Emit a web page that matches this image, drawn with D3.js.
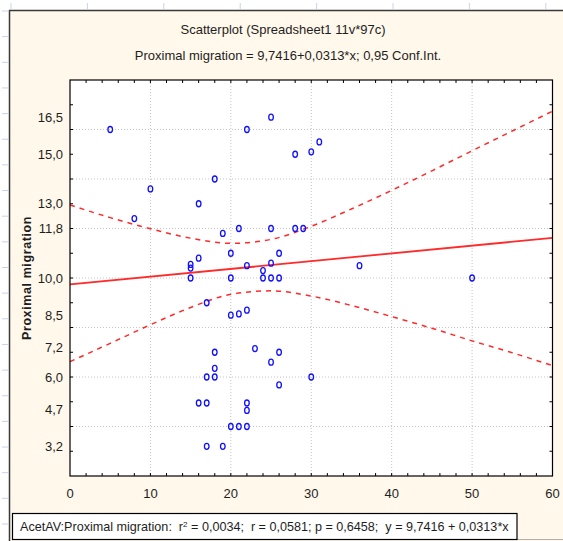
<!DOCTYPE html>
<meta charset="utf-8">
<!-- Load d3.js -->
<script src="https://d3js.org/d3.v7.min.js"></script>
<style>
  body { margin: 0; background: #ffffff; }
  svg text { font-family: Arial, "Liberation Sans", sans-serif; fill: #1e1e1e; }
</style>
<!-- Create a div where the graph will take place -->
<div id="my_div"></div>

<script>
    // data: AcetAV (x) vs Proximal migration (y)
    var acetAV = [5, 8, 10, 15, 15, 15, 16, 16, 16, 17, 17, 17, 17, 18, 18, 18, 18, 19, 19,
                  20, 20, 20, 20, 21, 21, 21, 22, 22, 22, 22, 22, 22, 23, 24, 24, 25, 25, 25,
                  25, 25, 26, 26, 26, 26, 28, 28, 29, 30, 30, 31, 36, 50];
    var proxMigration = [16.0, 12.4, 13.6, 10.55, 10.4, 10.0, 13.0, 10.8, 4.95, 9.0, 6.0, 4.95, 3.2,
                  14.0, 7.0, 6.35, 6.0, 11.8, 3.2, 11.0, 10.0, 8.5, 4.0, 12.0, 8.55, 4.0, 16.0,
                  10.5, 8.7, 4.95, 4.65, 4.0, 7.15, 10.3, 10.0, 16.5, 12.0, 10.6, 10.0, 6.6,
                  11.0, 10.0, 7.0, 5.68, 15.0, 12.0, 12.0, 15.1, 6.0, 15.5, 10.5, 10.0];

    // fitted line (from the subtitle) and the 0,95 confidence band
    var intercept = 9.7416, slope = 0.0313;
    var bandX     = [0, 5, 10, 15, 20, 25, 30, 35, 40, 45, 50, 55, 60];
    var bandUpper = [12.95, 12.44, 11.99, 11.61, 11.40, 11.56, 12.09, 12.79, 13.54, 14.33, 15.14, 15.94, 16.74];
    var bandLower = [6.62, 7.36, 8.11, 8.81, 9.34, 9.48, 9.27, 8.89, 8.44, 7.97, 7.46, 6.98, 6.46];

    // axis ticks
    var xTicks = [0, 10, 20, 30, 40, 50, 60];
    var yTickValues = [16.5, 15, 13, 12, 10, 8.5, 7.2, 6, 4.7, 3.2];
    var yTickLabels = ["16,5", "15,0", "13,0", "11,8", "10,0", "8,5", "7,2", "6,0", "4,7", "3,2"];

    var W = 563, H = 541;
    var plot = {left: 70, top: 80, right: 552.5, bottom: 476};

    var svg = d3.select("#my_div")
      .append("svg")
        .attr("width", W)
        .attr("height", H);

    // white sheet with the light blue ruler marks
    svg.append("rect").attr("width", W).attr("height", H).attr("fill", "#ffffff");
    svg.append("g").selectAll("line")
      .data(d3.range(11, H, 25.65))
      .enter().append("line")
        .attr("x1", 2).attr("x2", 8)
        .attr("y1", function(d) { return d; }).attr("y2", function(d) { return d; })
        .attr("stroke", "#c9d2ea").attr("stroke-width", 1);
    svg.append("g").selectAll("line")
      .data(d3.range(11, W, 76.4))
      .enter().append("line")
        .attr("y1", 3).attr("y2", 9)
        .attr("x1", function(d) { return d; }).attr("x2", function(d) { return d; })
        .attr("stroke", "#c9d2ea").attr("stroke-width", 1);

    // graph frame (cream)
    svg.append("rect")
      .attr("x", 9.5).attr("y", 10.5)
      .attr("width", W).attr("height", H)
      .attr("fill", "#fff8eb")
      .attr("stroke", "#3a3a3a")
      .attr("stroke-width", 1.5);

    // scales
    var x = d3.scaleLinear().domain([0, 60]).range([plot.left, plot.right]);
    var y = d3.scaleLinear().domain([2, 18]).range([plot.bottom, plot.top]);

    // plot background
    svg.append("rect")
      .attr("x", plot.left).attr("y", plot.top)
      .attr("width", plot.right - plot.left)
      .attr("height", plot.bottom - plot.top)
      .attr("fill", "#ffffff");

    // dotted grid
    svg.append("g").selectAll("line")
      .data([10, 20, 30, 40, 50])
      .enter().append("line")
        .attr("x1", function(d) { return x(d); }).attr("x2", function(d) { return x(d); })
        .attr("y1", plot.top).attr("y2", plot.bottom)
        .attr("stroke", "#c4c4c4").attr("stroke-dasharray", "1,2");
    svg.append("g").selectAll("line")
      .data([4, 6, 8, 10, 12, 14, 16])
      .enter().append("line")
        .attr("y1", function(d) { return y(d); }).attr("y2", function(d) { return y(d); })
        .attr("x1", plot.left).attr("x2", plot.right)
        .attr("stroke", "#c4c4c4").attr("stroke-dasharray", "1,2");

    // small inside ticks on the four sides
    var ticks = svg.append("g").attr("stroke", "#000").attr("stroke-width", 1);
    d3.range(3, 18, 1).forEach(function(v) {
      ticks.append("line").attr("x1", plot.left).attr("x2", plot.left + 3)
        .attr("y1", y(v)).attr("y2", y(v));
      ticks.append("line").attr("x1", plot.right - 3).attr("x2", plot.right)
        .attr("y1", y(v)).attr("y2", y(v));
    });
    d3.range(2, 60, 2).forEach(function(v) {
      ticks.append("line").attr("y1", plot.bottom - 3).attr("y2", plot.bottom)
        .attr("x1", x(v)).attr("x2", x(v));
      ticks.append("line").attr("y1", plot.top).attr("y2", plot.top + 3)
        .attr("x1", x(v)).attr("x2", x(v));
    });

    // confidence band (dashed) and regression line
    var bandLine = d3.line()
      .x(function(d) { return x(d[0]); })
      .y(function(d) { return y(d[1]); })
      .curve(d3.curveMonotoneX);
    [bandUpper, bandLower].forEach(function(arr) {
      svg.append("path")
        .datum(bandX.map(function(v, i) { return [v, arr[i]]; }))
        .attr("d", bandLine)
        .attr("fill", "none")
        .attr("stroke", "#ff2a2a")
        .attr("stroke-width", 1.5)
        .attr("stroke-dasharray", "5,5");
    });
    svg.append("line")
      .attr("x1", x(0)).attr("y1", y(intercept))
      .attr("x2", x(60)).attr("y2", y(intercept + slope * 60))
      .attr("stroke", "#ff2a2a")
      .attr("stroke-width", 1.8);

    // points
    svg.append("g").selectAll("ellipse")
      .data(acetAV.map(function(v, i) { return [v, proxMigration[i]]; }))
      .enter().append("ellipse")
        .attr("cx", function(d) { return x(d[0]); })
        .attr("cy", function(d) { return y(d[1]); })
        .attr("rx", 2.3).attr("ry", 3)
        .attr("fill", "none")
        .attr("stroke", "#1010ff")
        .attr("stroke-width", 1.3);

    // plot border
    svg.append("rect")
      .attr("x", plot.left).attr("y", plot.top)
      .attr("width", plot.right - plot.left)
      .attr("height", plot.bottom - plot.top)
      .attr("fill", "none")
      .attr("stroke", "#000")
      .attr("stroke-width", 1.2);

    // axis labels
    svg.append("g").selectAll("text")
      .data(xTicks)
      .enter().append("text")
        .attr("x", function(d) { return x(d); })
        .attr("y", 498)
        .attr("text-anchor", "middle")
        .style("font-size", "13px")
        .text(function(d) { return d; });
    svg.append("g").selectAll("text")
      .data(yTickValues)
      .enter().append("text")
        .attr("x", 63)
        .attr("y", function(d) { return y(d); })
        .attr("dy", "0.36em")
        .attr("text-anchor", "end")
        .style("font-size", "13px")
        .text(function(d, i) { return yTickLabels[i]; });

    // y axis title
    svg.append("text")
      .attr("transform", "translate(31," + ((plot.top + plot.bottom) / 2) + ") rotate(-90)")
      .attr("text-anchor", "middle")
      .style("font-size", "12.5px")
      .style("font-weight", "bold")
      .style("letter-spacing", "0.6px")
      .text("Proximal migration");

    // titles
    svg.append("text")
      .attr("x", 283).attr("y", 34)
      .attr("text-anchor", "middle")
      .style("font-size", "13px")
      .text("Scatterplot (Spreadsheet1 11v*97c)");
    svg.append("text")
      .attr("x", 288).attr("y", 60)
      .attr("text-anchor", "middle")
      .style("font-size", "13px")
      .text("Proximal migration = 9,7416+0,0313*x; 0,95 Conf.Int.");

    // statistics box at the bottom
    svg.append("line")
      .attr("x1", 517).attr("x2", W).attr("y1", 539.5).attr("y2", 539.5)
      .attr("stroke", "#b0b0b0");
    svg.append("rect")
      .attr("x", 12.5).attr("y", 513.5)
      .attr("width", 504.5).attr("height", 26)
      .attr("fill", "#ffffff")
      .attr("stroke", "#000")
      .attr("stroke-width", 1.2);
    var stat = svg.append("text")
      .attr("x", 20).attr("y", 531)
      .style("font-size", "12.6px")
      .style("white-space", "pre");
    stat.append("tspan").text("AcetAV:Proximal migration:  r");
    stat.append("tspan").attr("dy", -4).style("font-size", "8px").text("2");
    stat.append("tspan").attr("dy", 4).text(" = 0,0034;  r = 0,0581; p = 0,6458;  y = 9,7416 + 0,0313*x");
</script>
